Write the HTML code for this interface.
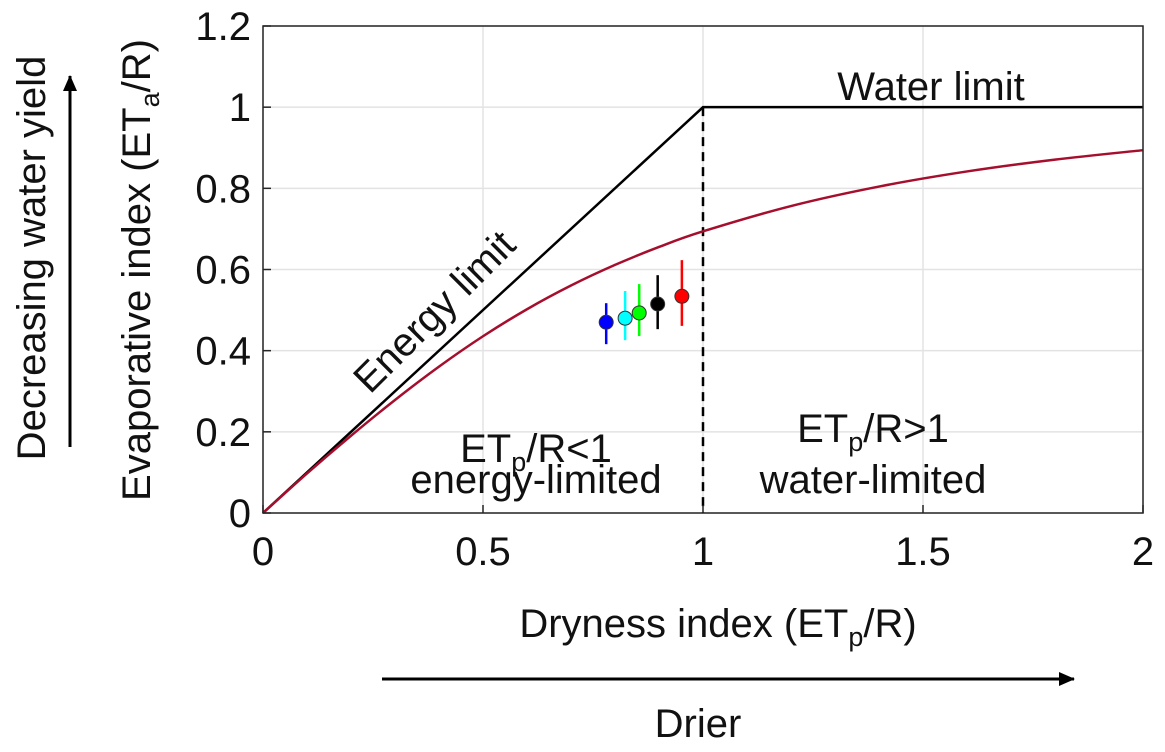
<!DOCTYPE html>
<html><head><meta charset="utf-8"><style>
body{margin:0;background:#fff;}
svg text{font-family:"Liberation Sans",Arial,sans-serif;fill:#111;}
</style></head><body>
<svg id="c" width="1165" height="747" viewBox="0 0 1165 747">
<defs><marker id="ah" markerWidth="16" markerHeight="14" refX="15" refY="7" orient="auto" markerUnits="userSpaceOnUse"><path d="M0,0 L16,7 L0,14 Z" fill="#000"/></marker></defs>
<g id="grid"></g>
<g id="plot"></g>
<g id="ticks"></g>
<text x="370" y="395" font-size="40" transform="rotate(-45 370 395)">Energy limit</text>
<text x="931" y="100" font-size="40" text-anchor="middle">Water limit</text>
<text x="536" y="462" font-size="40" text-anchor="middle">ET<tspan font-size="27" dy="9">p</tspan><tspan dy="-9">/R&lt;1</tspan></text>
<text x="536" y="493" font-size="40" text-anchor="middle">energy-limited</text>
<text x="873" y="442" font-size="40" text-anchor="middle">ET<tspan font-size="27" dy="9">p</tspan><tspan dy="-9">/R&gt;1</tspan></text>
<text x="873" y="493" font-size="40" text-anchor="middle">water-limited</text>
<text x="718" y="637" font-size="40" text-anchor="middle">Dryness index (ET<tspan font-size="27" dy="9">p</tspan><tspan dy="-9">/R)</tspan></text>
<text x="0" y="0" font-size="40" text-anchor="middle" transform="translate(150 270) rotate(-90)">Evaporative index (ET<tspan font-size="27" dy="9">a</tspan><tspan dy="-9">/R)</tspan></text>
<text x="0" y="0" font-size="40" text-anchor="middle" transform="translate(45 258) rotate(-90)">Decreasing water yield</text>
<line x1="70" y1="447" x2="70" y2="76" stroke="#000" stroke-width="3" marker-end="url(#ah)"/>
<line x1="382" y1="679" x2="1074" y2="679" stroke="#000" stroke-width="3" marker-end="url(#ah)"/>
<text x="698" y="737" font-size="40" text-anchor="middle">Drier</text>
</svg>
<script>
const xTicks=[0,0.5,1,1.5,2];
const xTickLabels=["0","0.5","1","1.5","2"];
const yTicks=[0,0.2,0.4,0.6,0.8,1,1.2];
const yTickLabels=["0","0.2","0.4","0.6","0.8","1","1.2"];
const curveX=[0,0.1,0.2,0.3,0.4,0.5,0.6,0.7,0.8,0.9,1.0,1.2,1.4,1.6,1.8,2.0];
const curveY=[0,0.0976,0.1904,0.2785,0.3607,0.4355,0.5021,0.5605,0.6113,0.6555,0.694,0.7564,0.8044,0.8416,0.8708,0.894];
const ptX=[0.78,0.823,0.855,0.897,0.952];
const ptY=[0.470,0.480,0.493,0.515,0.534];
const ptLo=[0.416,0.426,0.436,0.453,0.461];
const ptHi=[0.517,0.547,0.564,0.586,0.623];
const ptColors=["#0000ff","#00ffff","#00ff00","#000000","#ff0000"];
const ns="http://www.w3.org/2000/svg";
const X0=263,X1=1143,Y0=513,Y1=26;
const sx=v=>X0+(v-0)/2*(X1-X0);
const sy=v=>Y0-(v/1.2)*(Y0-Y1);
function mk(t,a,p){const e=document.createElementNS(ns,t);for(const k in a)e.setAttribute(k,a[k]);p.appendChild(e);return e;}
const grid=document.getElementById('grid'),plot=document.getElementById('plot'),ticks=document.getElementById('ticks');
mk('rect',{x:X0,y:Y1,width:X1-X0,height:Y0-Y1,fill:'#fff'},grid);
xTicks.forEach((t,i)=>{const l=mk('line',{x1:sx(t),x2:sx(t),y1:Y1,y2:Y0,stroke:'#e3e3e3','stroke-width':1.5},grid);

const tx=mk('text',{x:sx(t),y:Y0+52,'font-size':40,'text-anchor':'middle'},ticks);tx.textContent=xTickLabels[i];

mk('line',{x1:sx(t),x2:sx(t),y1:Y0,y2:Y0-8,stroke:'#262626','stroke-width':1.5},ticks);});
yTicks.forEach((t,i)=>{const l=mk('line',{x1:X0,x2:X1,y1:sy(t),y2:sy(t),stroke:'#e3e3e3','stroke-width':1.5},grid);

const tx=mk('text',{x:X0-12,y:sy(t)+14,'font-size':40,'text-anchor':'end'},ticks);tx.textContent=yTickLabels[i];

mk('line',{x1:X0,x2:X0+8,y1:sy(t),y2:sy(t),stroke:'#262626','stroke-width':1.5},ticks);});
const box=mk('rect',{x:X0,y:Y1,width:X1-X0,height:Y0-Y1,fill:'none',stroke:'#262626','stroke-width':1.5},ticks);

const lim=mk('polyline',{points:`${sx(0)},${sy(0)} ${sx(1)},${sy(1)} ${sx(2)},${sy(1)}`,fill:'none',stroke:'#000','stroke-width':2.5},plot);

const dl=mk('line',{x1:sx(1),x2:sx(1),y1:sy(1),y2:Y0,stroke:'#000','stroke-width':2.5,'stroke-dasharray':'9,6'},plot);

const P=curveX.map((x,i)=>[sx(x),sy(curveY[i])]);
let d=`M${P[0][0]},${P[0][1]}`;
for(let i=0;i<P.length-1;i++){const p0=P[Math.max(0,i-1)],p1=P[i],p2=P[i+1],p3=P[Math.min(P.length-1,i+2)];
d+=` C${p1[0]+(p2[0]-p0[0])/6},${p1[1]+(p2[1]-p0[1])/6} ${p2[0]-(p3[0]-p1[0])/6},${p2[1]-(p3[1]-p1[1])/6} ${p2[0]},${p2[1]}`;}
const cv=mk('path',{d:d,fill:'none',stroke:'#a50f2d','stroke-width':2.5},plot);

ptX.forEach((x,i)=>{const e=mk('line',{x1:sx(x),x2:sx(x),y1:sy(ptLo[i]),y2:sy(ptHi[i]),stroke:ptColors[i],'stroke-width':2.5},plot);

const c=mk('circle',{cx:sx(x),cy:sy(ptY[i]),r:7,fill:ptColors[i],stroke:'#333','stroke-width':1},plot);
});
</script>
</body></html>
